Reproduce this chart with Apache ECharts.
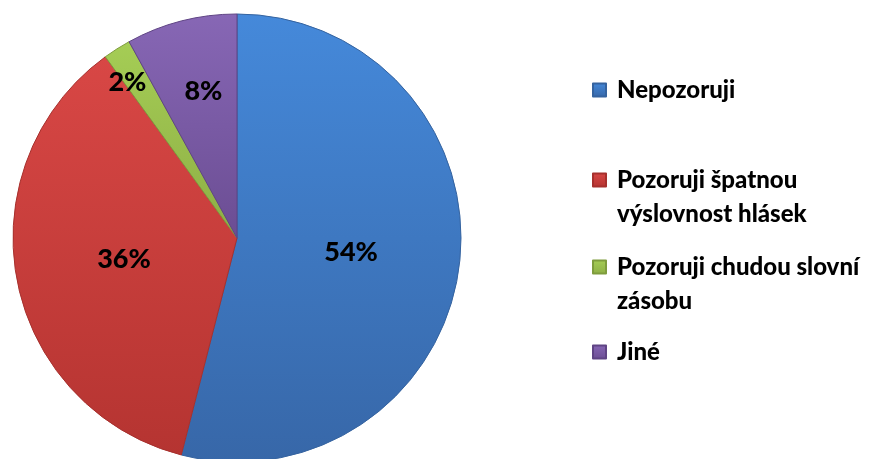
<!DOCTYPE html>
<html>
<head>
<meta charset="utf-8">
<script src="https://cdn.jsdelivr.net/npm/echarts@6/dist/echarts.min.js"></script>
<style>
html,body{margin:0;padding:0;background:#fff;}
#c{width:895px;height:459px;}
</style>
</head>
<body>
<div id="c"></div>
<script>
const categories = ['Nepozoruji', 'Pozoruji špatnou výslovnost hlásek', 'Pozoruji chudou slovní zásobu', 'Jiné'];
const values = [54, 36, 2, 8];
const legendLines = [['Nepozoruji'], ['Pozoruji špatnou', 'výslovnost hlásek'], ['Pozoruji chudou slovní', 'zásobu'], ['Jiné']];

const colorTop = ['#4589DA', '#D84745', '#A5CD55', '#8767B5'];
const colorBottom = ['#3767A8', '#B53431', '#8DAE45', '#6B4D93'];
const borderCols = ['#35639F', '#A6302D', '#7E9C3D', '#5F4484'];
const labelShift = [[0, 0], [0, 0], [-48, -59], [-5, -35]];
const legendTops = [68, 124, 211, 330];

const chart = echarts.init(document.getElementById('c'));
const font = 'Lato, "Open Sans", sans-serif';

const data = categories.map((n, i) => ({
  name: n,
  value: values[i],
  itemStyle: {
    color: new echarts.graphic.LinearGradient(0, 0, 0, 1, [
      {offset: 0, color: colorTop[i]},
      {offset: 1, color: colorBottom[i]}
    ]),
    borderColor: borderCols[i],
    borderWidth: 1
  }
}));

const legends = categories.map((n, i) => ({
  data: [{name: n, itemStyle: {color: new echarts.graphic.LinearGradient(0, 0, 0, 1, [
      {offset: 0, color: colorTop[i]}, {offset: 1, color: colorBottom[i]}])}}],
  orient: 'vertical',
  left: 587,
  top: legendTops[i],
  icon: 'rect',
  itemWidth: 13,
  itemHeight: 13,
  selectedMode: false,
  formatter: function () {
    const lines = legendLines[i];
    return lines.length > 1 ? '\n' + lines.join('\n') : lines[0];
  },
  textStyle: {
    fontFamily: font,
    fontWeight: 900,
    fontSize: 24,
    lineHeight: 34,
    color: '#000',
    padding: [0, 0, 0, 6]
  }
}));

chart.setOption({
  animation: false,
  legend: legends,
  series: [{
    type: 'pie',
    center: [237, 238],
    radius: 224,
    startAngle: 90,
    clockwise: true,
    data: data,
    label: {
      show: true,
      position: 'inside',
      formatter: '{d}%',
      fontFamily: font,
      fontWeight: 900,
      fontSize: 27,
      color: '#000'
    },
    labelLayout: function (p) {
      const s = labelShift[p.dataIndex];
      return {dx: s[0], dy: s[1]};
    },
    labelLine: {show: false},
    emphasis: {disabled: true}
  }]
});
</script>
</body>
</html>
